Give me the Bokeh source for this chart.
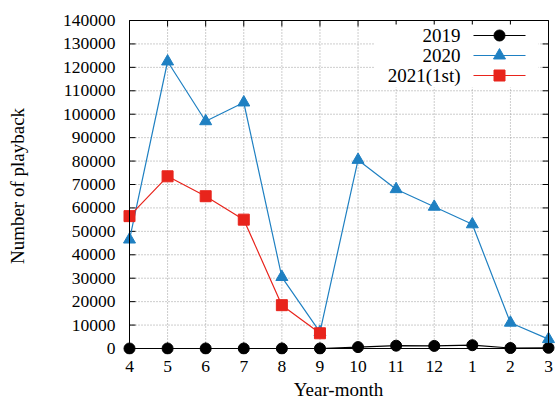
from bokeh.plotting import figure
from bokeh.models import Range1d, FixedTicker, NumeralTickFormatter, Label
from bokeh.embed import file_html
from bokeh.resources import INLINE

# ---- data ----
months = ["4", "5", "6", "7", "8", "9", "10", "11", "12", "1", "2", "3"]
plays_2019 = [0, 0, 0, 0, 0, 0, 600, 1200, 1100, 1400, 200, 300]
plays_2020 = [46500, 122500, 97000, 105000, 30500, 7000, 80500, 68000, 60500, 53000, 11000, 4000]
plays_2021 = [56500, 73500, 65000, 55000, 18500, 6500]
series_names = ["2019", "2020", "2021(1st)"]
y_ticks = list(range(0, 140001, 10000))

# ---- layout constants (pixels) ----
W, H = 555, 403
AX_L, AX_R, AX_T, AX_B = 129, 548, 20, 348      # box of the axes
FR_L, FR_R, FR_T, FR_B = 121, 555, 17, 354      # frame (padded so markers aren't clipped)
YMAX = 140000
NX = len(months) - 1

sx = (AX_R - AX_L) / NX
sy = YMAX / (AX_B - AX_T)

def dx(px):
    return (px - AX_L) / sx

def dy(py):
    return (AX_B - py) * sy

FONT = "Liberation Serif"
FS_TICK = "17.5px"
FS_LAB = "19px"
BLACK = "#000000"
BLUE = "#1f80c2"
RED = "#e8241c"

p = figure(width=W, height=H, output_backend="svg", toolbar_location=None,
           x_range=Range1d(dx(FR_L), dx(FR_R)), y_range=Range1d(dy(FR_B), dy(FR_T)),
           min_border_left=FR_L, min_border_right=W - FR_R,
           min_border_top=FR_T, min_border_bottom=H - FR_B)
p.outline_line_color = None
p.xgrid.visible = False
p.ygrid.visible = False
p.background_fill_color = "white"
p.border_fill_color = "white"

x = list(range(len(months)))

# axes (labels only; box and ticks drawn in data space)
p.xaxis.ticker = FixedTicker(ticks=x)
p.xaxis.major_label_overrides = {i: m for i, m in enumerate(months)}
p.yaxis.ticker = FixedTicker(ticks=y_ticks)
p.yaxis.formatter = NumeralTickFormatter(format="0")
for ax in (p.xaxis[0], p.yaxis[0]):
    ax.axis_line_color = None
    ax.major_tick_line_color = None
    ax.minor_tick_line_color = None
    ax.major_tick_out = 0
    ax.major_tick_in = 0
    ax.major_label_text_font = FONT
    ax.major_label_text_font_size = FS_TICK
    ax.major_label_text_color = BLACK
    ax.axis_label_text_font = FONT
    ax.axis_label_text_font_size = FS_LAB
    ax.axis_label_text_font_style = "normal"
    ax.axis_label_text_color = BLACK
p.xaxis.axis_label = "Year-month"
p.yaxis.axis_label = "Number of playback"
p.xaxis.major_label_standoff = 6
p.xaxis.axis_label_standoff = 4
p.yaxis.major_label_standoff = 6
p.yaxis.axis_label_standoff = 32

# grid (dotted)
gx = x[1:-1]
p.segment(x0=gx, y0=[0] * len(gx), x1=gx, y1=[YMAX] * len(gx),
          line_color="#9a9a9a", line_dash="1 2", line_width=1)
gy = y_ticks[1:-1]
p.segment(x0=[0] * len(gy), y0=gy, x1=[NX] * len(gy), y1=gy,
          line_color="#9a9a9a", line_dash="1 2", line_width=1)

# ticks (inward, mirrored)
tl_x = 6 / sx
tl_y = 6 * sy
p.segment(x0=x, y0=[0] * len(x), x1=x, y1=[tl_y] * len(x), line_color=BLACK)
p.segment(x0=x, y0=[YMAX] * len(x), x1=x, y1=[YMAX - tl_y] * len(x), line_color=BLACK)
p.segment(x0=[0] * len(y_ticks), y0=y_ticks, x1=[tl_x] * len(y_ticks), y1=y_ticks, line_color=BLACK)
p.segment(x0=[NX] * len(y_ticks), y0=y_ticks, x1=[NX - tl_x] * len(y_ticks), y1=y_ticks, line_color=BLACK)

# legend background
p.quad(left=[dx(374)], right=[dx(538)], top=[dy(24)], bottom=[dy(87)],
       fill_color="white", line_color=None)

# data
p.line(x, plays_2019, line_color=BLACK, line_width=1.2)
p.scatter(x, plays_2019, marker="circle", size=11, fill_color=BLACK, line_color=BLACK)
p.line(x, plays_2020, line_color=BLUE, line_width=1.2)
p.scatter(x, plays_2020, marker="triangle", size=12, fill_color=BLUE, line_color=BLUE)
x21 = x[:len(plays_2021)]
p.line(x21, plays_2021, line_color=RED, line_width=1.2)
p.scatter(x21, plays_2021, marker="square", size=11, fill_color=RED, line_color=RED)

# box
p.quad(left=[0], right=[NX], bottom=[0], top=[YMAX], fill_color=None,
       line_color=BLACK, line_width=1)

# legend (text on the left, sample on the right, gnuplot style)
rows = [35, 55, 75]
styles = [(BLACK, "circle", 11), (BLUE, "triangle", 12), (RED, "square", 11)]
for name, ry, (col, mk, sz) in zip(series_names, rows, styles):
    p.add_layout(Label(x=dx(460), y=dy(ry), text=name, text_align="right",
                       text_baseline="middle", text_font=FONT, text_font_size=FS_LAB,
                       text_color=BLACK))
    p.line([dx(473), dx(525)], [dy(ry), dy(ry)], line_color=col, line_width=1.2)
    p.scatter([dx(499)], [dy(ry)], marker=mk, size=sz, fill_color=col, line_color=col)

open("out.html", "w").write(file_html(p, INLINE))
